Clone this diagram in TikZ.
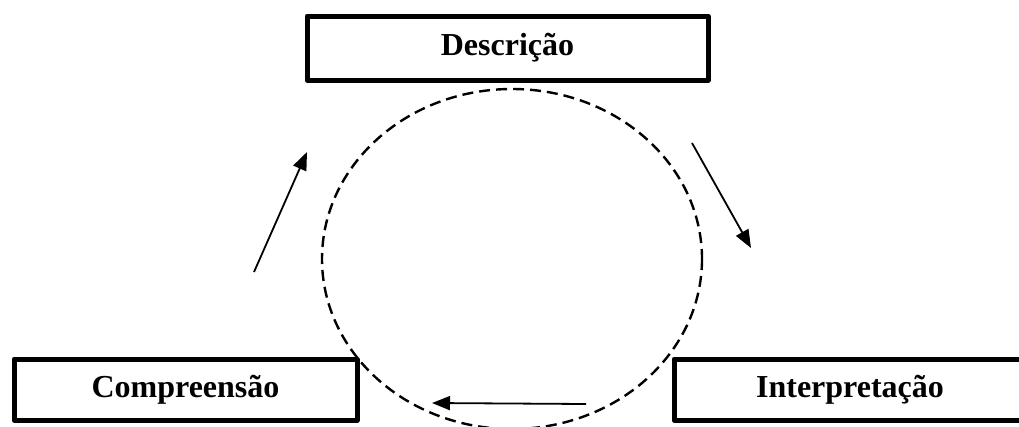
\documentclass[tikz,border=0pt]{standalone}
\usepackage{fontspec}
\setmainfont{Liberation Serif}
\usetikzlibrary{arrows.meta}
\begin{document}
\begin{tikzpicture}[x=1pt,y=-1pt,
  stagebox/.style={draw=black, fill=white, line width=5pt, line join=round, rectangle, inner sep=0pt,
    font=\fontsize{32}{36}\selectfont\bfseries},
  cyclearrow/.style={line width=1.8pt, -{Triangle[length=18pt,width=14pt]}},
  cycleline/.style={line width=2.4pt, dash pattern=on 11pt off 6pt}]
\useasboundingbox (0,0) rectangle (1019,426);
\fill[white] (0,0) rectangle (1019,426);
\draw[cycleline] (512,259) ellipse [x radius=190, y radius=170];
\node[stagebox, minimum width=401pt, minimum height=64pt] (desc) at (507.5,48) {Descrição};
\node[stagebox, minimum width=343pt, minimum height=61pt] (comp) at (185.5,389.5) {Compreensão};
\node[stagebox, minimum width=352pt, minimum height=61pt] (interp) at (850,389.5) {Interpretação};
\coordinate (a1s) at (254,272);
\coordinate (a1e) at (307,152);
\coordinate (a2s) at (692,143);
\coordinate (a2e) at (751,248);
\coordinate (a3s) at (586,404);
\coordinate (a3e) at (432,403);
\draw[cyclearrow] (a1s) -- (a1e);
\draw[cyclearrow] (a2s) -- (a2e);
\draw[cyclearrow] (a3s) -- (a3e);
\end{tikzpicture}
\end{document}
